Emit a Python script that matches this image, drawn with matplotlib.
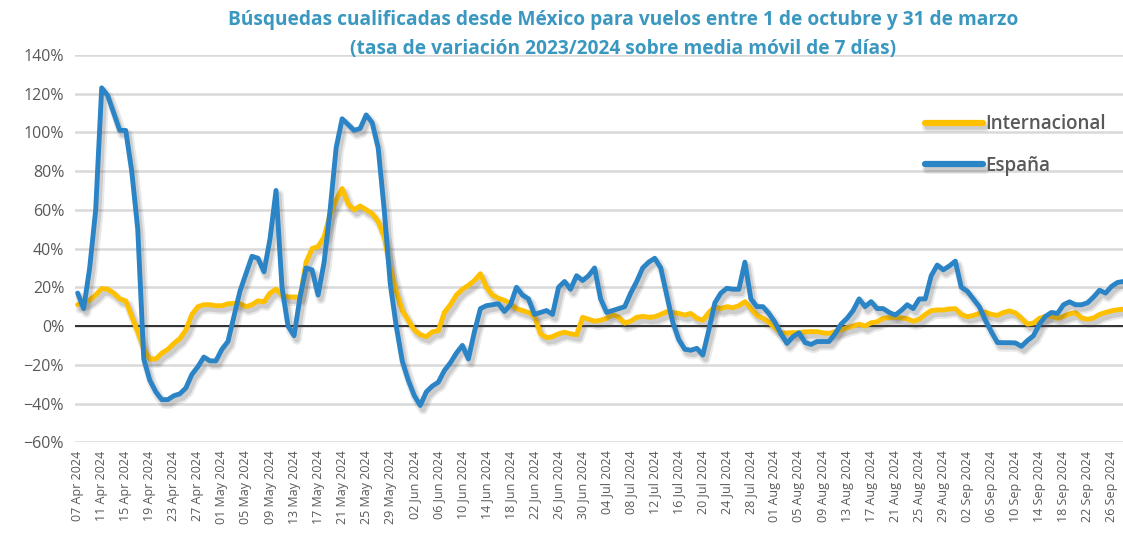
import numpy as np
import pandas as pd
import matplotlib
matplotlib.use("Agg")
import matplotlib.pyplot as plt
import matplotlib.patheffects as pe
from matplotlib.ticker import PercentFormatter

# daily dates, 07 Apr 2024 .. 28 Sep 2024
dates = pd.date_range("2024-04-07", "2024-09-28", freq="D")

# tasa de variación (%), España
espana = [
    17, 9, 30, 60, 123, 119, 110, 101, 101, 80,
    50, -17, -28, -34, -38, -38, -36, -35, -32, -25,
    -21, -16, -18, -18, -12, -8, 5, 18, 27, 36,
    35, 28, 45, 70, 20, 0, -5, 15, 30, 29,
    16, 33, 60, 92, 107, 104, 101, 102, 109, 105,
    92, 60, 22, 0, -18, -28, -36, -41, -34, -31,
    -29, -23, -19, -14, -10, -17, -3, 9, 10.5, 11,
    11.5, 7.5, 11, 20, 16, 14, 6, 7, 8, 6,
    20, 23, 19, 26, 23.5, 26, 30, 14, 7, 8,
    9, 10, 17, 23, 30, 33, 35, 30, 16, 2,
    -7, -12, -12.5, -11.5, -15, -2, 12, 17, 19.5, 19,
    19, 33, 14, 10, 10, 6.5, 2, -4, -9, -5.5,
    -3.5, -8.5, -9.5, -8, -8, -8, -4, 1, 4, 8,
    14, 10, 12.6, 9, 9, 7, 5.7, 8, 11, 9,
    14, 14, 26, 31.5, 29, 31, 33.5, 20, 18, 14,
    10, 3, -3, -8.5, -8.6, -8.6, -8.7, -10.5, -7.5, -5,
    1, 5, 7, 6.5, 11, 12.5, 11, 11, 12, 15,
    18.5, 17, 20.5, 22.5, 23,
]

# tasa de variación (%), Internacional
internacional = [
    11, 12, 13.4, 16, 19.4, 19, 17, 14, 13, 5,
    -3, -12, -17, -17, -14, -12, -9, -6.5, -2, 6,
    10, 11, 11, 10.5, 10.5, 11.5, 11.7, 11.5, 10, 11,
    13, 12.5, 17, 19, 16, 15, 15, 15, 33, 40,
    41, 46, 58, 65, 71, 63, 60, 62, 60, 58,
    54, 46, 30, 18, 8, 3, -2, -4.5, -5.5, -3,
    -2.4, 7, 11, 16, 19, 21, 23.5, 27, 20, 16,
    14.3, 13.3, 11.5, 9, 8, 7, 5, -4, -6, -5.5,
    -4, -3.2, -4, -4.5, 4.5, 3.5, 2.5, 3, 4, 6,
    4.5, 1.5, 2.5, 4.5, 5, 4.5, 4.8, 6, 7.4, 7,
    6.5, 5.7, 6.5, 4, 3, 7, 10, 9, 10, 9.5,
    10.5, 12.6, 9, 5.5, 4, 2, -1, -3.5, -3.6, -3.4,
    -3.4, -3, -2.9, -2.9, -3.5, -3.8, -2.9, -2, -0.8, 0,
    1, 0, 1.7, 2.2, 4, 4.3, 4.5, 4.2, 3.8, 2.5,
    3.5, 6, 8, 8.3, 8.3, 8.8, 9, 6, 4.8, 5.5,
    6.5, 7.2, 6, 5.5, 7, 7.8, 6.8, 4, 1, 1.5,
    4, 5, 5.2, 4, 5, 6.3, 6.9, 4.2, 3.5, 4.2,
    6, 7, 7.9, 8.4, 8.7,
]

y_ticks = [-60, -40, -20, 0, 20, 40, 60, 80, 100, 120, 140]

title = ("Búsquedas cualificadas desde México para vuelos entre 1 de octubre y 31 de marzo\n"
         "(tasa de variación 2023/2024 sobre media móvil de 7 días)")

plt.rcParams["font.family"] = ["Open Sans", "DejaVu Sans"]

fig = plt.figure(figsize=(11.23, 5.38), dpi=100)
ax = fig.add_axes([0.067, 0.178, 0.933, 0.72])

x = np.arange(len(dates))
# soft drop shadow like the Excel original
shadow = [
    pe.SimpleLineShadow(offset=(2, -3), shadow_color="0.3", alpha=0.12, linewidth=7),
    pe.SimpleLineShadow(offset=(2, -3), shadow_color="0.3", alpha=0.18, linewidth=4),
    pe.Normal(),
]

ax.plot(x, internacional, color="#FFC000", lw=3.5, label="Internacional",
        solid_capstyle="round", path_effects=shadow, zorder=3)
ax.plot(x, espana, color="#2A84C6", lw=3.5, label="España",
        solid_capstyle="round", path_effects=shadow, zorder=4)

ax.axhline(0, color="#222222", lw=1.3, zorder=2)

ax.set_ylim(-60, 140)
ax.set_yticks(y_ticks)
ax.yaxis.set_major_formatter(PercentFormatter(decimals=0))
ax.set_xlim(-0.4, 173.9)
tick_idx = x[::4]
ax.set_xticks(tick_idx)
ax.set_xticklabels([dates[i].strftime("%d %b %Y") for i in tick_idx], rotation=90)

ax.grid(axis="y", color="#D9D9D9", lw=1.8)
ax.set_axisbelow(True)
for s in ax.spines.values():
    s.set_visible(False)
ax.tick_params(axis="both", length=0, colors="#595959")
ax.tick_params(axis="y", labelsize=11.5, pad=8)
ax.tick_params(axis="x", labelsize=9, pad=6)

leg = ax.legend(loc="upper right", bbox_to_anchor=(1.0, 0.89), frameon=False,
                prop={"size": 13.5, "weight": "semibold"}, handlelength=3.1,
                labelspacing=1.15, handletextpad=0.15, labelcolor="#595959")
for h in leg.get_lines():
    h.set_linewidth(4.5)

fig.text(0.555, 0.982, title, ha="center", va="top", fontsize=13.8, fontweight="bold",
         color="#3A98C0", linespacing=1.6)

fig.savefig("out.png", dpi=100)
